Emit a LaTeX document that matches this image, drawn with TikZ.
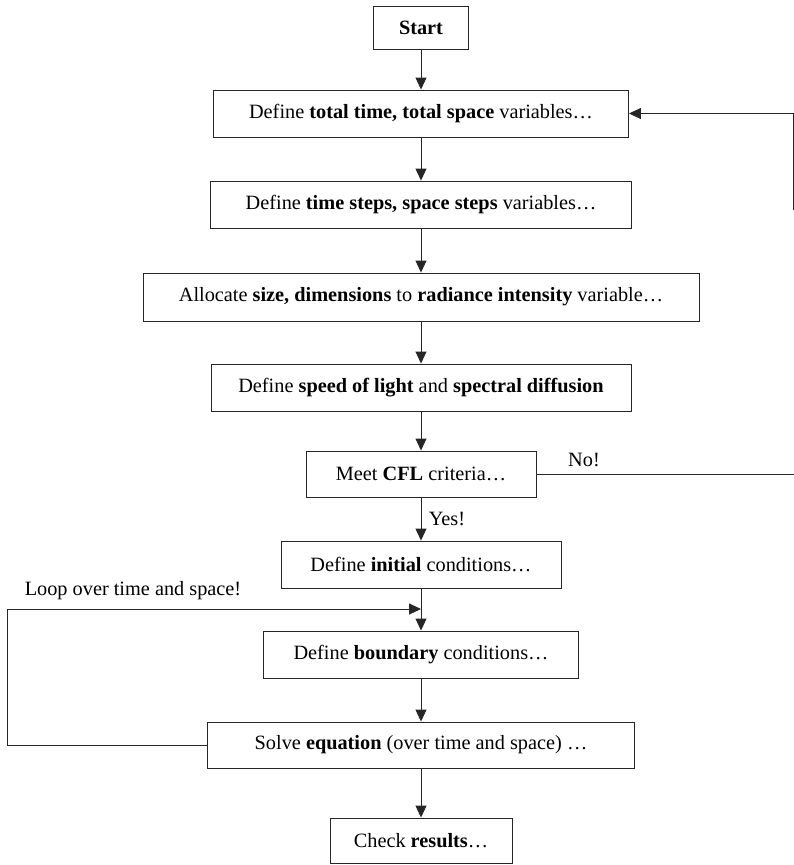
\documentclass[tikz,border=0pt]{standalone}
\usepackage{fontspec}
\setmainfont{Liberation Serif}
\usetikzlibrary{arrows.meta}
\begin{document}
\begin{tikzpicture}[x=1pt,y=-1pt,
  box/.style={draw=black!85,line width=0.9pt,inner sep=0pt,align=center,
    font=\fontsize{20.3}{24}\selectfont},
  lbl/.style={inner sep=0pt,font=\fontsize{20.3}{24}\selectfont},
  arr/.style={draw=black!85,line width=0.9pt,-{Triangle[length=12pt,width=11pt]}},
  ln/.style={draw=black!85,line width=0.9pt}]
\useasboundingbox (0,0) rectangle (794,865);
\node[box,minimum width=95pt,minimum height=43pt] (s) at (421,27.5) {\textbf{Start}};
\node[box,minimum width=415pt,minimum height=47pt] (b1) at (421,113.5) {Define \textbf{total time, total space} variables…};
\node[box,minimum width=421pt,minimum height=47pt] (b2) at (421,204.5) {Define \textbf{time steps, space steps} variables…};
\node[box,minimum width=556pt,minimum height=48pt] (b3) at (421,297) {Allocate \textbf{size, dimensions} to \textbf{radiance intensity} variable…};
\node[box,minimum width=420pt,minimum height=47pt] (b4) at (421,387.5) {Define \textbf{speed of light} and \textbf{spectral diffusion}};
\node[box,minimum width=230pt,minimum height=46pt] (b5) at (421,474) {Meet \textbf{CFL} criteria…};
\node[box,minimum width=280pt,minimum height=47pt] (b6) at (421,564.5) {Define \textbf{initial} conditions…};
\node[box,minimum width=315pt,minimum height=47pt] (b7) at (421,654.5) {Define \textbf{boundary} conditions…};
\node[box,minimum width=427pt,minimum height=46pt] (b8) at (421,745) {Solve \textbf{equation} (over time and space) …};
\node[box,minimum width=182pt,minimum height=45pt] (b9) at (421,840.5) {Check \textbf{results}…};
\node[lbl] (yes) at (447,519) {Yes!};
\node[lbl] (no) at (584,460) {No!};
\node[lbl] (loop) at (133,591) {Loop over time and space!};
\draw[arr] (s) -- (b1);
\draw[arr] (b1) -- (b2);
\draw[arr] (b2) -- (b3);
\draw[arr] (b3) -- (b4);
\draw[arr] (b4) -- (b5);
\draw[arr] (b5) -- (b6);
\draw[arr] (b6) -- (b7);
\draw[arr] (b7) -- (b8);
\draw[arr] (b8) -- (b9);
\coordinate (rlow) at (793,210);
\coordinate (noend) at (794,474);
\draw[arr] (rlow) |- (b1.east);
\draw[ln] (b5.east) -- (noend);
\coordinate (lc) at (7,609);
\coordinate (lin) at (421,609);
\draw[arr] (b8.west) -| (lc) -- (lin);
\end{tikzpicture}
\end{document}
